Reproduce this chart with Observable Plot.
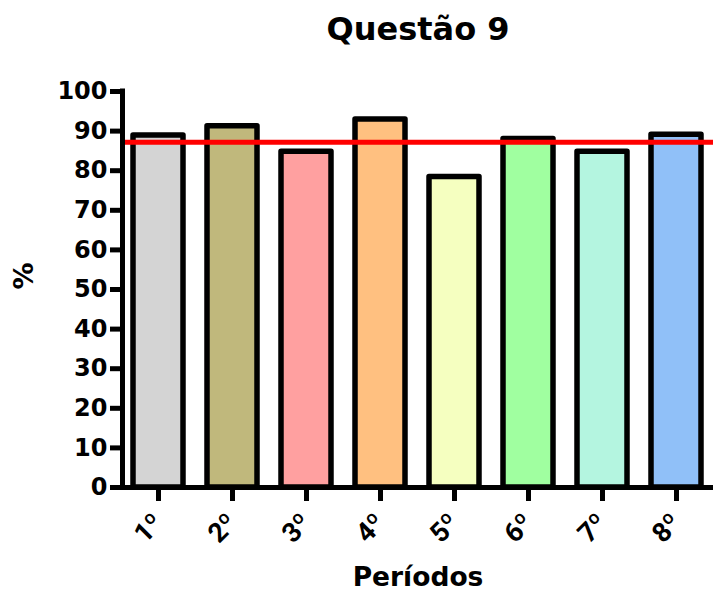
<!DOCTYPE html>
<html>
<head>
<meta charset="utf-8">
<script src="https://cdn.jsdelivr.net/npm/d3@7"></script>
<script src="https://cdn.jsdelivr.net/npm/@observablehq/plot@0.6"></script>
<style>
  html, body { margin: 0; padding: 0; background: #fff; }
</style>
</head>
<body>
<div id="chart"></div>
<script>
const periods = ["1º", "2º", "3º", "4º", "5º", "6º", "7º", "8º"];
const values = [88.9, 91.2, 84.8, 92.9, 78.4, 88.0, 84.8, 89.1];
const colors = ["#D4D4D4", "#C0B87C", "#FFA0A0", "#FFC080", "#F5FFC0", "#A0FFA0", "#B4F5E0", "#90C0F8"];
const meanLine = [87.2];
const yTicks = [0, 10, 20, 30, 40, 50, 60, 70, 80, 90, 100];
const title = "Questão 9";
const xLabel = "Períodos";
const yLabel = "%";

const data = periods.map((p, i) => ({period: p, value: values[i], color: colors[i]}));

const chart = Plot.plot({
  width: 713,
  height: 594,
  marginTop: 91,
  marginBottom: 107,
  marginLeft: 122,
  marginRight: 0,
  style: {fontFamily: "'DejaVu Sans', sans-serif", fontWeight: "bold", color: "#000", background: "#fff"},
  x: {domain: periods, paddingInner: 0.32, paddingOuter: 0.15, label: null},
  y: {domain: [0, 100], label: null},
  marks: [
    Plot.barY(data, {x: "period", y: "value", fill: "color", stroke: "#000", strokeWidth: 5.5, strokeLinejoin: "round"}),
    Plot.ruleY(meanLine, {stroke: "#FF0000", strokeWidth: 5}),
    Plot.ruleY([0], {stroke: "#000", strokeWidth: 5, strokeLinecap: "square"}),
    Plot.ruleX([0], {x: null, y1: 0, y2: 100, dx: -295.5, stroke: "#000", strokeWidth: 5, strokeLinecap: "square"}),
    Plot.axisY({ticks: yTicks, tickSize: 12, tickPadding: 3, strokeWidth: 5, fontSize: 24, fontWeight: "bold", label: null, stroke: "#000", fill: "#000"}),
    Plot.axisX({tickSize: 14, tickPadding: 17, tickRotate: -45, strokeWidth: 5, fontSize: 27, fontFamily: "Roboto, 'DejaVu Sans', sans-serif", fontWeight: "bold", label: null, stroke: "#000", fill: "#000"}),
    Plot.text([title], {frameAnchor: "top", dy: -62, lineAnchor: "middle", fontSize: 32, fontWeight: "bold", fill: "#000"}),
    Plot.text([xLabel], {frameAnchor: "bottom", dy: 90.5, lineAnchor: "middle", fontSize: 26.5, fontWeight: "bold", fill: "#000"}),
    Plot.text([yLabel], {frameAnchor: "left", dx: -98.5, rotate: -90, lineAnchor: "middle", fontSize: 27, fontWeight: "bold", fill: "#000"})
  ]
});
document.getElementById("chart").appendChild(chart);
</script>
</body>
</html>
